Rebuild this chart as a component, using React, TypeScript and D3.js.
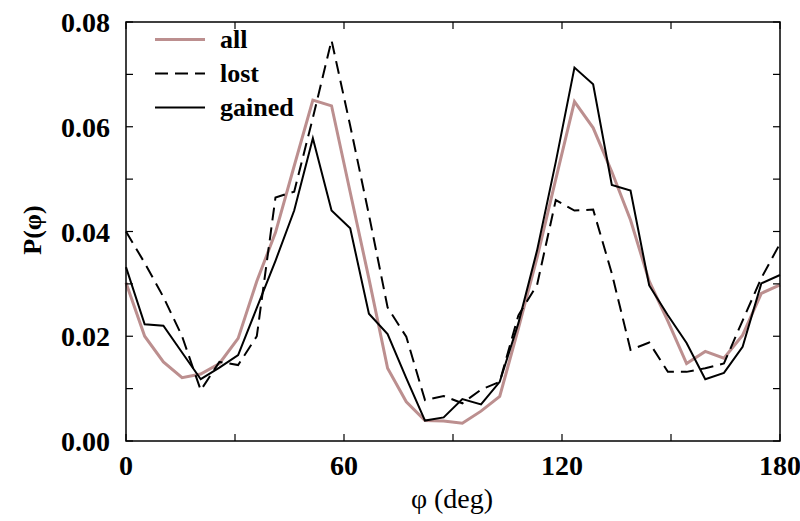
import React from "react";
import * as d3 from "d3";

const phi = [
  0, 5.14, 10.29, 15.43, 20.57, 25.71, 30.86, 36, 41.14, 46.29, 51.43, 56.57,
  61.71, 66.86, 72, 77.14, 82.29, 87.43, 92.57, 97.71, 102.86, 108, 113.14,
  118.29, 123.43, 128.57, 133.71, 138.86, 144, 149.14, 154.29, 159.43, 164.57,
  169.71, 174.86, 180,
];

const allVals = [
  0.0302, 0.02, 0.0151, 0.0121, 0.0128, 0.0148, 0.0196, 0.0305, 0.0398, 0.0525,
  0.0651, 0.064, 0.0475, 0.031, 0.0139, 0.0075, 0.0039, 0.0038, 0.0034, 0.0057,
  0.0085, 0.0215, 0.035, 0.05, 0.0648, 0.0598, 0.0514, 0.0422, 0.0305, 0.0229,
  0.0148, 0.0171, 0.0158, 0.0202, 0.0282, 0.0298,
];

const lostVals = [
  0.04, 0.034, 0.0275, 0.02, 0.0097, 0.0151, 0.0145, 0.02, 0.0465, 0.0476,
  0.0617, 0.0765, 0.0602, 0.0432, 0.0255, 0.0199, 0.0078, 0.0086, 0.0072,
  0.0098, 0.0113, 0.024, 0.0298, 0.046, 0.044, 0.0442, 0.032, 0.0174, 0.0188,
  0.0132, 0.0132, 0.0139, 0.0148, 0.023, 0.0311, 0.0377,
];

const gainedVals = [
  0.0332, 0.0223, 0.022, 0.0169, 0.0118, 0.014, 0.0164, 0.0254, 0.0344, 0.044,
  0.0578, 0.044, 0.0406, 0.0243, 0.0204, 0.012, 0.0039, 0.0045, 0.008, 0.007,
  0.0113, 0.0225, 0.0364, 0.0533, 0.0713, 0.0681, 0.0489, 0.0478, 0.0297,
  0.024, 0.0187, 0.0118, 0.013, 0.018, 0.0301, 0.0317,
];

const xTickLabels = [0, 60, 120, 180];
const xTicksAll = [0, 30, 60, 90, 120, 150, 180];
const yTickLabels = [0, 0.02, 0.04, 0.06, 0.08];
const yTicksAll = [0, 0.01, 0.02, 0.03, 0.04, 0.05, 0.06, 0.07, 0.08];

const seriesNames = ["all", "lost", "gained"];

const W = 800;
const H = 521;
const L = 126;
const R = 780;
const T = 22;
const B = 441;

export default function App() {
  const x = d3.scaleLinear().domain([0, 180]).range([L, R]);
  const y = d3.scaleLinear().domain([0, 0.08]).range([B, T]);
  const line = d3
    .line<number>()
    .x((_, i) => x(phi[i]))
    .y((d) => y(d));

  const styles = [
    { stroke: "#bc8f8f", width: 3, dash: undefined as string | undefined },
    { stroke: "#000", width: 2, dash: "13,7" },
    { stroke: "#000", width: 2, dash: undefined as string | undefined },
  ];
  const data = [allVals, lostVals, gainedVals];
  const font = "'Liberation Serif', 'Times New Roman', serif";
  const tickLen = 7;

  return (
    <svg
      width={W}
      height={H}
      style={{ position: "absolute", left: 0, top: 0, background: "#fff" }}
      fontFamily={font}
    >
      <rect x={0} y={0} width={W} height={H} fill="#fff" />
      {data.map((d, i) => (
        <path
          key={i}
          d={line(d) || ""}
          fill="none"
          stroke={styles[i].stroke}
          strokeWidth={styles[i].width}
          strokeDasharray={styles[i].dash}
          strokeLinejoin="miter"
        />
      ))}
      <rect
        x={L}
        y={T}
        width={R - L}
        height={B - T}
        fill="none"
        stroke="#000"
        strokeWidth={1.5}
      />
      {xTicksAll.map((t) => (
        <g key={"xt" + t}>
          <line x1={x(t)} x2={x(t)} y1={B} y2={B - tickLen} stroke="#000" strokeWidth={1.2} />
          <line x1={x(t)} x2={x(t)} y1={T} y2={T + tickLen} stroke="#000" strokeWidth={1.2} />
        </g>
      ))}
      {yTicksAll.map((t) => (
        <g key={"yt" + t}>
          <line x1={L} x2={L + tickLen} y1={y(t)} y2={y(t)} stroke="#000" strokeWidth={1.2} />
          <line x1={R} x2={R - tickLen} y1={y(t)} y2={y(t)} stroke="#000" strokeWidth={1.2} />
        </g>
      ))}
      {xTickLabels.map((t) => (
        <text
          key={"xl" + t}
          x={x(t)}
          y={475}
          textAnchor="middle"
          fontSize={28}
          fontWeight="bold"
        >
          {t}
        </text>
      ))}
      {yTickLabels.map((t) => (
        <text
          key={"yl" + t}
          x={110}
          y={y(t) + 10}
          textAnchor="end"
          fontSize={28}
          fontWeight="bold"
        >
          {d3.format(".2f")(t)}
        </text>
      ))}
      <text x={452} y={508} textAnchor="middle" fontSize={28}>
        φ (deg)
      </text>
      <text
        transform="translate(41,230) rotate(-90)"
        textAnchor="middle"
        fontSize={26}
        fontWeight="bold"
      >
        P(φ)
      </text>
      {seriesNames.map((n, i) => (
        <g key={n}>
          <line
            x1={155}
            x2={205}
            y1={39.5 + i * 34}
            y2={39.5 + i * 34}
            stroke={styles[i].stroke}
            strokeWidth={styles[i].width}
            strokeDasharray={styles[i].dash}
          />
          <text x={220} y={48 + i * 34} fontSize={26} fontWeight="bold">
            {n}
          </text>
        </g>
      ))}
    </svg>
  );
}
